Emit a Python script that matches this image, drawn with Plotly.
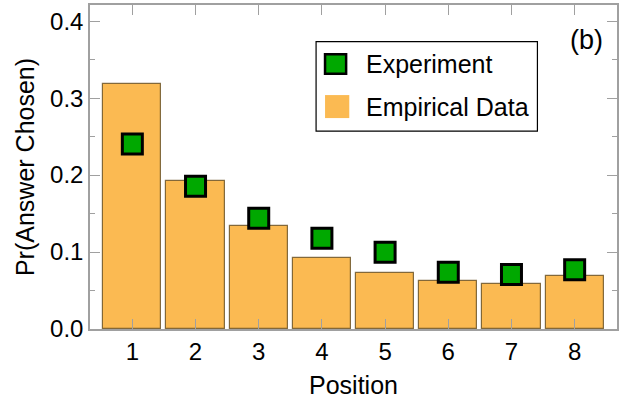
import plotly.graph_objects as go

positions = [1, 2, 3, 4, 5, 6, 7, 8]
empirical = [0.318, 0.1925, 0.1335, 0.0926, 0.0733, 0.0624, 0.0585, 0.0694]
experiment = [0.2405, 0.1856, 0.144, 0.118, 0.0997, 0.0739, 0.0708, 0.0769]
legend_labels = ["Experiment", "Empirical Data"]
panel_label = "(b)"

bar_color = "#FBBA52"
green = "#00A800"
axis_gray = "#A0A0A0"
font_family = "Liberation Sans, Arial, sans-serif"

fig = go.Figure()
fig.add_trace(go.Bar(
    x=positions, y=empirical, width=0.92,
    marker=dict(color=bar_color, line=dict(color="rgba(90,65,20,0.75)", width=1.2)),
    showlegend=False,
))
fig.add_trace(go.Scatter(
    x=positions, y=experiment, mode="markers",
    marker=dict(symbol="square", size=20, color=green, line=dict(color="black", width=3)),
    showlegend=False,
))

# custom legend (box, swatches, labels) in paper coordinates
fig.add_shape(type="rect", xref="paper", yref="paper",
              x0=0.429, x1=0.849, y0=0.611, y1=0.887,
              line=dict(color="black", width=1.2), fillcolor="white", layer="above")
fig.add_shape(type="rect", xref="paper", yref="paper",
              x0=0.446, x1=0.486, y0=0.788, y1=0.848,
              line=dict(color="black", width=2.5), fillcolor=green, layer="above")
fig.add_shape(type="rect", xref="paper", yref="paper",
              x0=0.446, x1=0.492, y0=0.651, y1=0.722,
              line=dict(width=0), fillcolor=bar_color, layer="above")
fig.add_annotation(xref="paper", yref="paper", x=0.52, y=0.818, text=legend_labels[0],
                   showarrow=False, xanchor="left", yanchor="middle",
                   font=dict(size=25, color="black", family=font_family))
fig.add_annotation(xref="paper", yref="paper", x=0.52, y=0.685, text=legend_labels[1],
                   showarrow=False, xanchor="left", yanchor="middle",
                   font=dict(size=25, color="black", family=font_family))
fig.add_annotation(xref="paper", yref="paper", x=0.978, y=0.893, text=panel_label,
                   showarrow=False, xanchor="right", yanchor="middle",
                   font=dict(size=27, color="black", family=font_family))

fig.update_xaxes(
    range=[0.33, 8.67], tickvals=positions, ticktext=[str(p) for p in positions],
    ticks="inside", ticklen=10, tickwidth=1.2, tickcolor=axis_gray,
    showline=True, linecolor=axis_gray, linewidth=1.5, mirror="allticks",
    showgrid=False, zeroline=False,
    tickfont=dict(size=24, color="black", family=font_family),
    title=dict(text="Position", font=dict(size=25, color="black", family=font_family), standoff=13),
)
fig.update_yaxes(
    range=[0, 0.421], tickvals=[0, 0.1, 0.2, 0.3, 0.4],
    ticktext=["0.0", "0.1", "0.2", "0.3", "0.4"],
    ticks="inside", ticklen=10, tickwidth=1.2, tickcolor=axis_gray,
    minor=dict(tickvals=[0.05, 0.15, 0.25, 0.35], ticks="inside", ticklen=5,
               tickwidth=1.2, tickcolor=axis_gray, showgrid=False),
    showline=True, linecolor=axis_gray, linewidth=1.5, mirror="allticks",
    showgrid=False, zeroline=False,
    tickfont=dict(size=24, color="black", family=font_family),
    title=dict(text="Pr(Answer Chosen)", font=dict(size=25, color="black", family=font_family), standoff=8),
)
fig.update_layout(
    width=626, height=404,
    margin=dict(l=90, r=9, t=3, b=75),
    paper_bgcolor="white", plot_bgcolor="white",
    font=dict(family=font_family, color="black"),
    bargap=0,
)
fig.write_html("out.html", config={"displayModeBar": False},
               post_script="document.body.style.margin='0px';")
